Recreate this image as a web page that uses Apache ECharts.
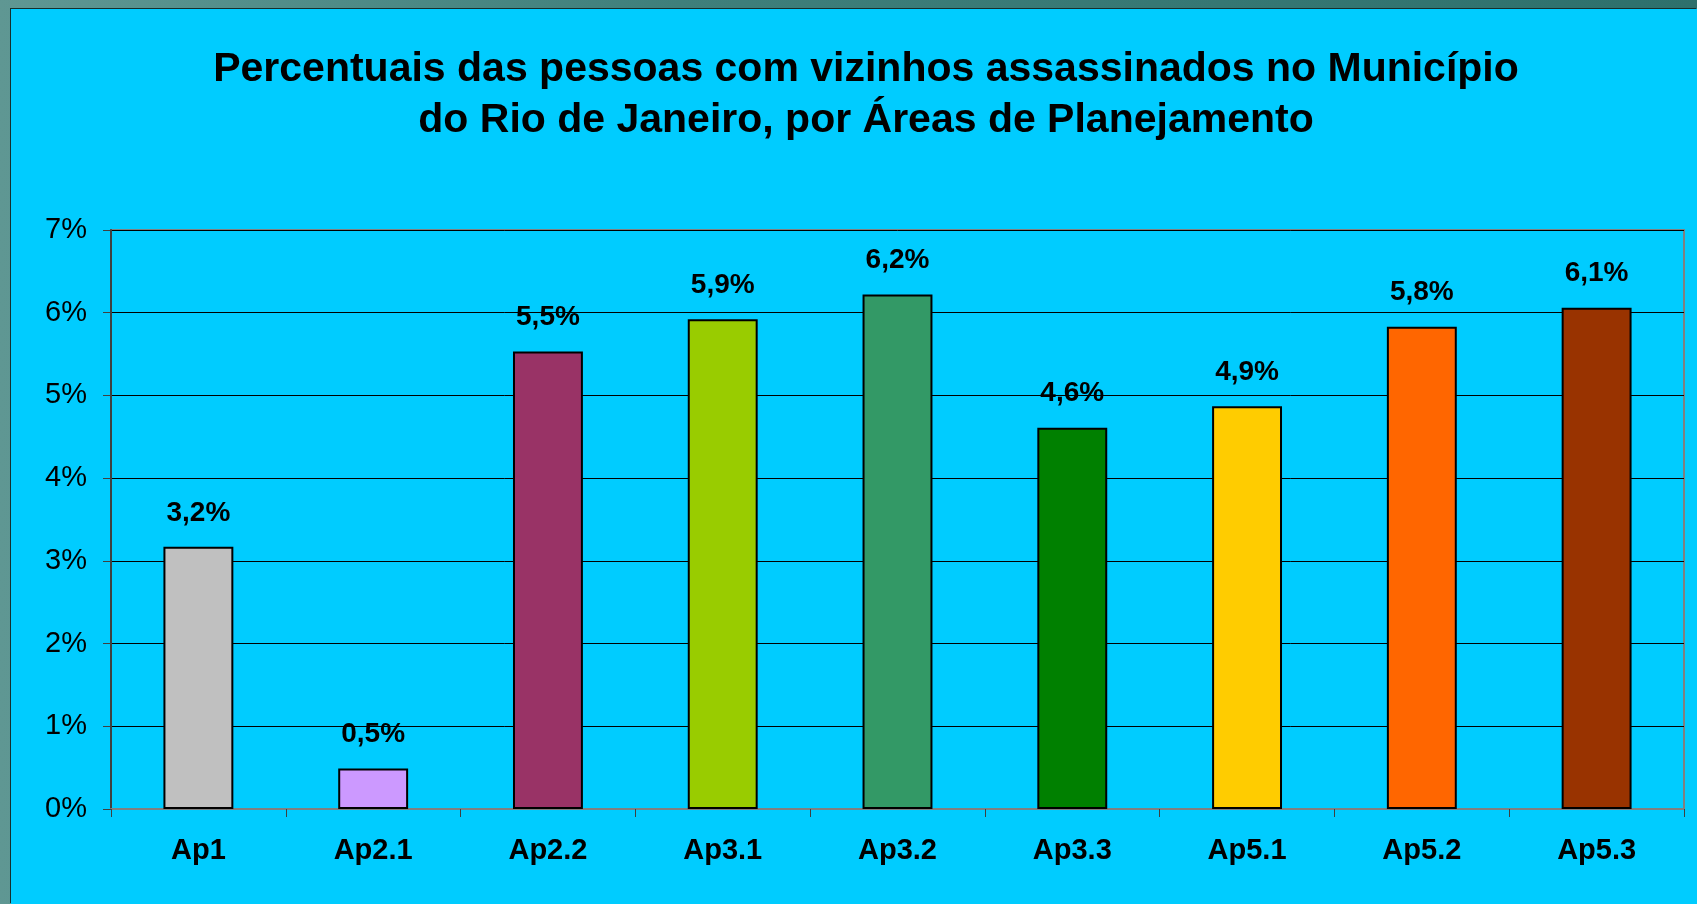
<!DOCTYPE html>
<html>
<head>
<meta charset="utf-8">
<script src="https://cdn.jsdelivr.net/npm/echarts@6/dist/echarts.min.js"></script>
<style>
  html, body { margin: 0; padding: 0; width: 1697px; height: 904px; overflow: hidden;
    background: linear-gradient(90deg, #5f9793 0%, #3f7f7b 40%, #2e706c 100%); }
  #main { position: absolute; left: 11px; top: 9px; width: 1686px; height: 895px;
    background: #00ccff; box-shadow: -1px -1px 0 #15302e; }
</style>
</head>
<body>
<div id="main"></div>
<script>
// dados
const categorias = ['Ap1', 'Ap2.1', 'Ap2.2', 'Ap3.1', 'Ap3.2', 'Ap3.3', 'Ap5.1', 'Ap5.2', 'Ap5.3']
const valores = [3.17, 0.49, 5.53, 5.92, 6.22, 4.61, 4.87, 5.83, 6.06]
const cores = ['#c0c0c0', '#cc99ff', '#993366', '#99cc00', '#339966', '#008000', '#ffcc00', '#ff6600', '#993300']
const tituloLinhas = ['Percentuais das pessoas com vizinhos assassinados no Município', 'do Rio de Janeiro, por Áreas de Planejamento']

const myChart = echarts.init(document.getElementById('main'))
const font = 'Liberation Sans, Arial, Helvetica, sans-serif'

const option = {
  animation: false,
  title: {
    text: tituloLinhas.join('\n'),
    left: 850,
    top: 30,
    textAlign: 'center',
    textStyle: {
      fontFamily: font,
      fontWeight: 'bold',
      fontSize: 41,
      lineHeight: 51,
      color: '#000'
    }
  },
  grid: {
    left: 100,
    top: 221,
    right: 13,
    bottom: 95,
    show: true,
    borderColor: '#808080',
    borderWidth: 2,
    backgroundColor: 'transparent'
  },
  xAxis: {
    type: 'category',
    data: categorias,
    axisLine: { lineStyle: { color: '#808080', width: 2 } },
    axisTick: { show: true, length: 8, lineStyle: { color: '#404040', width: 1 } },
    axisLabel: {
      margin: 27,
      fontFamily: font,
      fontWeight: 'bold',
      fontSize: 29,
      color: '#000'
    }
  },
  yAxis: {
    type: 'value',
    min: 0,
    max: 7,
    interval: 1,
    axisLine: { show: true, lineStyle: { color: '#404040', width: 2 } },
    axisTick: { show: true, length: 8, lineStyle: { color: '#404040', width: 1 } },
    splitLine: { show: true, lineStyle: { color: '#000', width: 1 } },
    axisLabel: {
      margin: 24,
      fontFamily: font,
      fontSize: 29,
      color: '#000',
      formatter: '{value}%'
    }
  },
  series: [{
    type: 'bar',
    barWidth: '40%',
    data: valores.map((v, i) => ({
      value: v,
      itemStyle: { color: cores[i] }
    })),
    itemStyle: { borderColor: '#000', borderWidth: 2 },
    label: {
      show: true,
      position: 'top',
      distance: 20,
      fontFamily: font,
      fontWeight: 'bold',
      fontSize: 28,
      color: '#000',
      formatter: (p) => p.value.toFixed(1).replace('.', ',') + '%'
    }
  }]
}

myChart.setOption(option)
</script>
</body>
</html>
